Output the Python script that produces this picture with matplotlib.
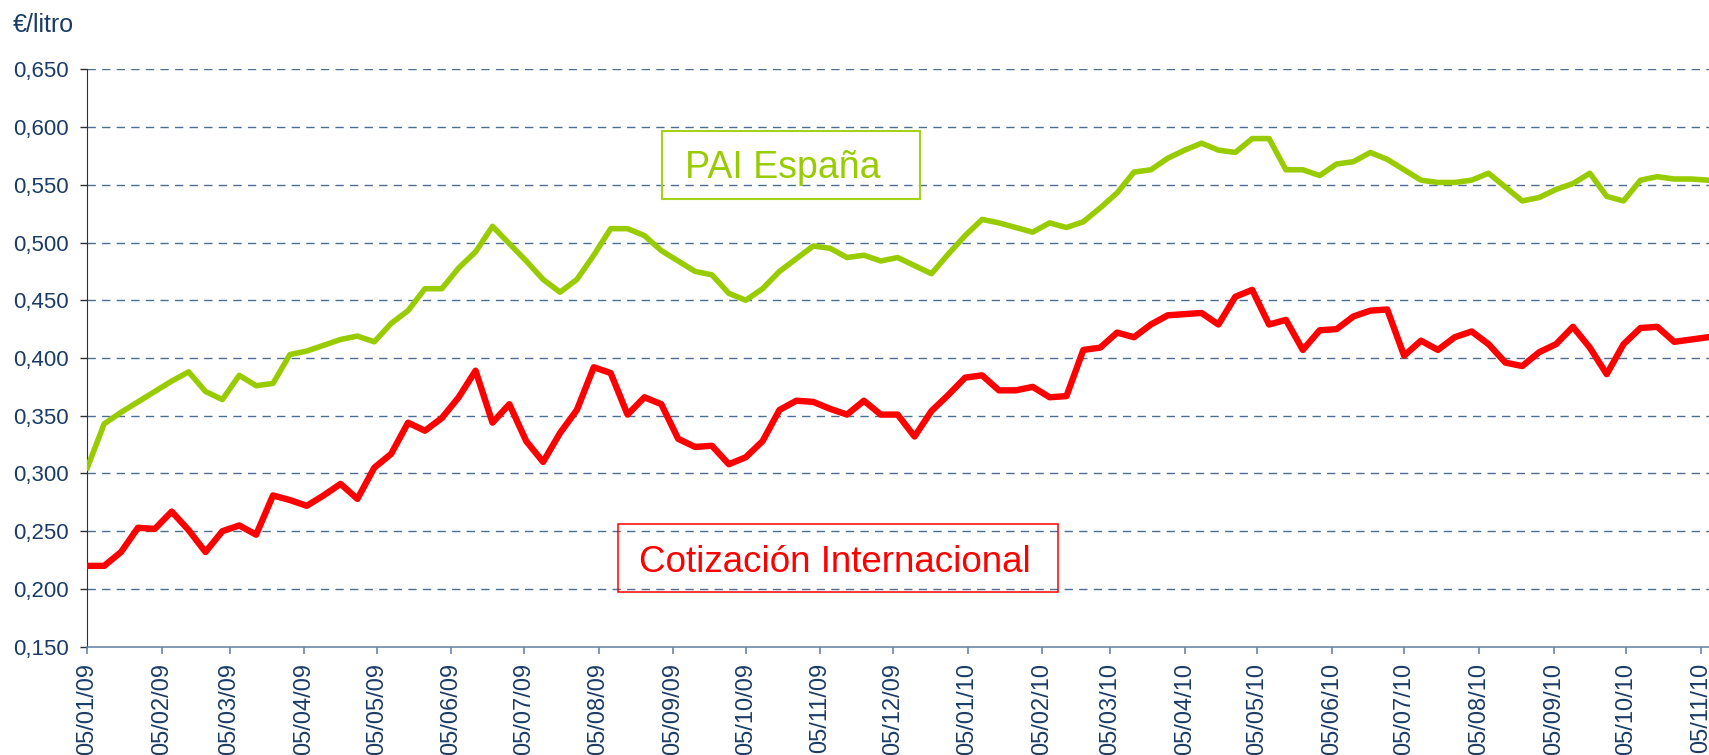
import numpy as np
import pandas as pd
import matplotlib
matplotlib.use("Agg")
import matplotlib.pyplot as plt
import matplotlib.dates as mdates
from matplotlib.ticker import FuncFormatter, MultipleLocator
from matplotlib.patches import Rectangle

# cotizaciones semanales (lunes) en €/litro
semanas = pd.date_range("2009-01-05", periods=97, freq="7D")

pai_espana = [
    0.305, 0.343, 0.353, 0.362, 0.371, 0.380, 0.388, 0.371, 0.364, 0.385,
    0.376, 0.378, 0.403, 0.406, 0.411, 0.416, 0.419, 0.414, 0.430, 0.441,
    0.460, 0.460, 0.478, 0.492, 0.514, 0.499, 0.484, 0.468, 0.457, 0.468,
    0.489, 0.512, 0.512, 0.506, 0.493, 0.484, 0.475, 0.472, 0.456, 0.450,
    0.460, 0.475, 0.486, 0.497, 0.495, 0.487, 0.489, 0.484, 0.487, 0.480,
    0.473, 0.490, 0.506, 0.520, 0.517, 0.513, 0.509, 0.517, 0.513, 0.518,
    0.530, 0.543, 0.561, 0.563, 0.573, 0.580, 0.586, 0.580, 0.578, 0.590,
    0.590, 0.563, 0.563, 0.558, 0.568, 0.570, 0.578, 0.572, 0.563, 0.554,
    0.552, 0.552, 0.554, 0.560, 0.548, 0.536, 0.539, 0.546, 0.551, 0.560,
    0.540, 0.536, 0.554, 0.557, 0.555, 0.555, 0.554,
]

cotizacion_int = [
    0.220, 0.220, 0.232, 0.253, 0.252, 0.267, 0.251, 0.232, 0.250, 0.255,
    0.247, 0.281, 0.277, 0.272, 0.281, 0.291, 0.278, 0.305, 0.317, 0.344,
    0.337, 0.348, 0.366, 0.389, 0.344, 0.360, 0.328, 0.310, 0.335, 0.355,
    0.392, 0.387, 0.351, 0.366, 0.360, 0.330, 0.323, 0.324, 0.308, 0.314,
    0.328, 0.355, 0.363, 0.362, 0.356, 0.351, 0.363, 0.351, 0.351, 0.332,
    0.354, 0.368, 0.383, 0.385, 0.372, 0.372, 0.375, 0.366, 0.367, 0.407,
    0.409, 0.422, 0.418, 0.429, 0.437, 0.438, 0.439, 0.429, 0.453, 0.459,
    0.429, 0.433, 0.407, 0.424, 0.425, 0.436, 0.441, 0.442, 0.402, 0.415,
    0.407, 0.418, 0.423, 0.412, 0.396, 0.393, 0.405, 0.412, 0.427, 0.409,
    0.386, 0.412, 0.426, 0.427, 0.414, 0.416, 0.418,
]

azul = "#1b3c66"
rejilla = "#4d6d91"

plt.rcParams["font.family"] = ["Liberation Sans", "DejaVu Sans"]
plt.rcParams["lines.scale_dashes"] = False

W, H = 1709, 755
fig = plt.figure(figsize=(W / 100, H / 100), dpi=100)
ax = fig.add_axes([87.3 / W, 1 - 646.7 / H, 1 - 87.3 / W, (646.7 - 69.3) / H])

ax.plot(semanas, pai_espana, color="#99cc00", lw=4.0, zorder=3)
ax.plot(semanas, cotizacion_int, color="#ff0000", lw=4.6, zorder=3)

ax.set_ylim(0.15, 0.65)
ax.set_xlim(pd.Timestamp("2009-01-05"), pd.Timestamp("2010-11-08 10:00"))

ax.yaxis.set_major_locator(MultipleLocator(0.05))
ax.yaxis.set_major_formatter(FuncFormatter(lambda v, p: f"{v:.3f}".replace(".", ",")))
ax.xaxis.set_major_locator(mdates.MonthLocator(bymonthday=5))
ax.xaxis.set_major_formatter(mdates.DateFormatter("%d/%m/%y"))

for v in np.arange(0.20, 0.651, 0.05):
    ax.axhline(v, color=rejilla, lw=1.0, ls=(0, (6, 4.5)), zorder=1)

for s in ["top", "right"]:
    ax.spines[s].set_visible(False)
ax.spines["left"].set_color("#303030")
ax.spines["bottom"].set_color("#6a88a8")
ax.spines["bottom"].set_linewidth(1.2)

ax.tick_params(axis="y", direction="out", length=5, width=1, color="#303030",
               labelsize=16, labelcolor=azul, pad=8.5)
ax.tick_params(axis="x", direction="out", length=5, width=1.2, color="#6a88a8",
               labelsize=17, labelcolor=azul, pad=6.5, labelrotation=90)

fig.text(13 / W, 1 - 31.7 / H, "€/litro", fontsize=18, color=azul, va="baseline")

# recuadros de las series
fig.add_artist(Rectangle((662 / W, 1 - 199 / H), 258 / W, 68 / H,
                         transform=fig.transFigure, fill=False,
                         edgecolor="#a4d11a", lw=1.5))
fig.text(685 / W, 1 - 178 / H, "PAI España", fontsize=27, color="#99cc00",
         va="baseline")

fig.add_artist(Rectangle((617.7 / W, 1 - 592 / H), 440.3 / W, 68 / H,
                         transform=fig.transFigure, fill=False,
                         edgecolor="#ff0000", lw=1.1))
fig.text(639 / W, 1 - 571.7 / H, "Cotización Internacional", fontsize=26.5,
         color="#ff0000", va="baseline")

fig.savefig("out.png", dpi=100)
